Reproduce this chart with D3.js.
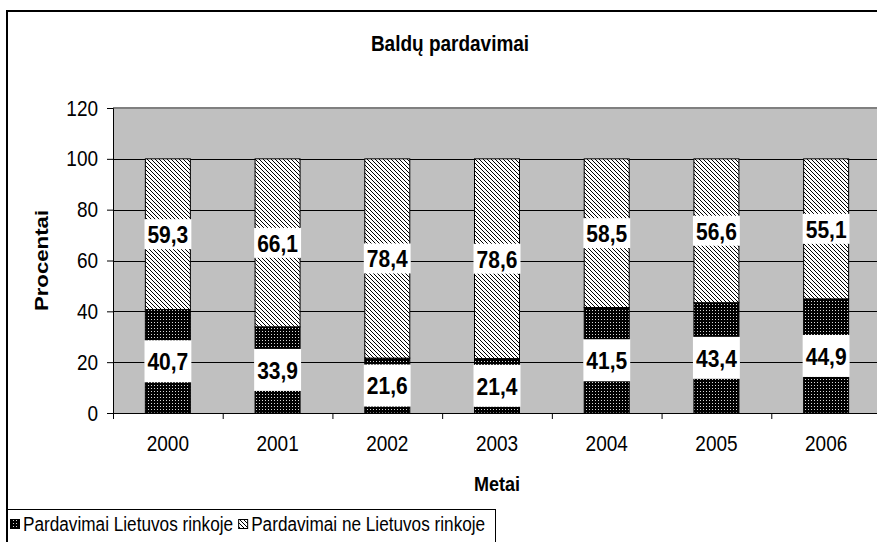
<!DOCTYPE html>
<html>
<head>
<meta charset="utf-8">
<script src="https://cdn.jsdelivr.net/npm/d3@7"></script>
<style>
  body { margin: 0; background: #fff; }
  text { font-family: "Liberation Sans", Arial, sans-serif; }
</style>
</head>
<body>
<div id="chart"></div>
<script>
// data
const years = ['2000', '2001', '2002', '2003', '2004', '2005', '2006'];
const lietuvos = [40.7, 33.9, 21.6, 21.4, 41.5, 43.4, 44.9];
const neLietuvos = [59.3, 66.1, 78.4, 78.6, 58.5, 56.6, 55.1];
const yTicks = [0, 20, 40, 60, 80, 100, 120];
const seriesNames = ['Pardavimai Lietuvos rinkoje', 'Pardavimai ne Lietuvos rinkoje'];

const W = 877, H = 542;
const plot = {left: 113, right: 881, top: 108, bottom: 413};
const barW = 45;
const k = 1.17; // the source picture is a bit taller than wide, so stretch text

const svg = d3.select('#chart').append('svg')
  .attr('width', W).attr('height', H);

// puts a text at x,y and stretches it vertically
function stretched(sel, x0, y0, rot) {
  return sel.attr('transform', 'translate(' + x0 + ',' + y0 + ')' +
    (rot ? ' rotate(-90) scale(' + k + ',1)' : ' scale(1,' + k + ')'));
}

// patterns
const defs = svg.append('defs');
const dots = defs.append('pattern').attr('id', 'dots')
  .attr('patternUnits', 'userSpaceOnUse').attr('width', 3).attr('height', 3);
dots.append('rect').attr('width', 3).attr('height', 3).attr('fill', '#000');
dots.append('rect').attr('x', 1).attr('y', 1).attr('width', 1).attr('height', 1).attr('fill', '#d8d8d8');

const diag = defs.append('pattern').attr('id', 'diag')
  .attr('patternUnits', 'userSpaceOnUse').attr('width', 4).attr('height', 4);
diag.append('rect').attr('width', 4).attr('height', 4).attr('fill', '#fff');
diag.append('path').attr('d', 'M-1,-1 L5,5 M-1,3 L1,5 M3,-1 L5,1')
  .attr('stroke', '#000').attr('stroke-width', 1);

// outer chart border
svg.append('rect')
  .attr('x', 7).attr('y', 11).attr('width', W + 10).attr('height', H + 10)
  .attr('fill', '#fff').attr('stroke', '#000').attr('stroke-width', 2);

// title
stretched(svg.append('text'), 450, 51)
  .attr('text-anchor', 'middle')
  .style('font-size', '19px').style('font-weight', 'bold')
  .text('Baldų pardavimai');

const x = d3.scaleBand().domain(years).range([plot.left, plot.right]);
const y = d3.scaleLinear().domain([0, 120]).range([plot.bottom, plot.top]);

// plot area
svg.append('rect')
  .attr('x', plot.left).attr('y', y(120))
  .attr('width', plot.right - plot.left).attr('height', y(0) - y(120))
  .attr('fill', '#c0c0c0');
svg.append('line')
  .attr('x1', plot.left).attr('x2', plot.right)
  .attr('y1', y(120)).attr('y2', y(120))
  .attr('stroke', '#808080').attr('stroke-width', 2);

// gridlines
svg.append('g').selectAll('line')
  .data(yTicks.filter(d => d > 0 && d < 120))
  .enter().append('line')
    .attr('x1', plot.left).attr('x2', plot.right)
    .attr('y1', d => Math.round(y(d)) + 0.5).attr('y2', d => Math.round(y(d)) + 0.5)
    .attr('stroke', '#000').attr('stroke-width', 1);

// y axis
const yAxis = svg.append('g')
  .attr('transform', 'translate(' + plot.left + ',0)')
  .call(d3.axisLeft(y).tickValues(yTicks).tickSize(6).tickPadding(9));
yAxis.select('.domain').attr('stroke', '#000');
yAxis.selectAll('text').style('font-size', '19px').attr('fill', '#000')
  .style('font-family', '"Liberation Sans", Arial, sans-serif')
  .attr('transform', 'scale(1,' + k + ')');

// x axis
const xAxis = svg.append('g')
  .attr('transform', 'translate(0,' + plot.bottom + ')')
  .call(d3.axisBottom(x).tickSize(0).tickPadding(22));
xAxis.select('.domain').attr('stroke', '#000');
xAxis.selectAll('text').style('font-size', '19px').attr('fill', '#000')
  .style('font-family', '"Liberation Sans", Arial, sans-serif')
  .attr('y', 22 / k)
  .attr('transform', 'scale(1,' + k + ')');
xAxis.selectAll('.bound')
  .data(years.map(d => x(d)))
  .enter().append('line')
    .attr('class', 'bound')
    .attr('x1', d => d + 0.5).attr('x2', d => d + 0.5)
    .attr('y1', 0).attr('y2', 6)
    .attr('stroke', '#000');

// stacked bars
const rows = years.map((yr, i) => ({year: yr, lt: lietuvos[i], ne: neLietuvos[i]}));
const stack = d3.stack().keys(['lt', 'ne'])(rows);
const fills = ['url(#dots)', 'url(#diag)'];
const bx = d => x(d.data.year) + (x.bandwidth() - barW) / 2;

stack.forEach((layer, li) => {
  svg.append('g').selectAll('rect')
    .data(layer)
    .enter().append('rect')
      .attr('x', d => bx(d))
      .attr('y', d => y(d[1]))
      .attr('width', barW)
      .attr('height', d => y(d[0]) - y(d[1]))
      .attr('fill', fills[li])
      .attr('stroke', '#000').attr('stroke-width', 1);
});

// data labels
const fmt = d3.formatLocale({decimal: ',', thousands: ' ', grouping: [3], currency: ['', '']}).format('.1f');
const boxH = [42, 30];
stack.forEach((layer, li) => {
  const g = svg.append('g');
  layer.forEach(d => {
    const cy = y((d[0] + d[1]) / 2);
    const cx = bx(d) + barW / 2;
    g.append('rect')
      .attr('x', cx - barW / 2 - 1).attr('y', cy - boxH[li] / 2)
      .attr('width', barW + 2).attr('height', boxH[li])
      .attr('fill', '#fff');
    stretched(g.append('text'), cx, cy)
      .attr('dy', '0.36em')
      .attr('text-anchor', 'middle')
      .style('font-size', '21px').style('font-weight', 'bold')
      .text(fmt(d[1] - d[0]));
  });
});

// axis titles
stretched(svg.append('text'), 48, (plot.top + plot.bottom) / 2, true)
  .attr('text-anchor', 'middle')
  .style('font-size', '19px').style('font-weight', 'bold')
  .text('Procentai');

stretched(svg.append('text'), (plot.left + plot.right) / 2, 491)
  .attr('text-anchor', 'middle')
  .style('font-size', '18px').style('font-weight', 'bold')
  .text('Metai');

// legend
const lg = svg.append('g');
lg.append('rect')
  .attr('x', 7.5).attr('y', 509.5).attr('width', 488).attr('height', 40)
  .attr('fill', '#fff').attr('stroke', '#000').attr('stroke-width', 1);
let lx = 10;
seriesNames.forEach((name, i) => {
  lg.append('rect')
    .attr('x', lx + 0.5).attr('y', 519.5).attr('width', 9).attr('height', 9)
    .attr('fill', fills[i]).attr('stroke', '#000');
  const t = stretched(lg.append('text'), lx + 13, 531)
    .style('font-size', '17.2px')
    .text(name);
  lx = lx + 13 + t.node().getComputedTextLength() + 5;
});
</script>
</body>
</html>
